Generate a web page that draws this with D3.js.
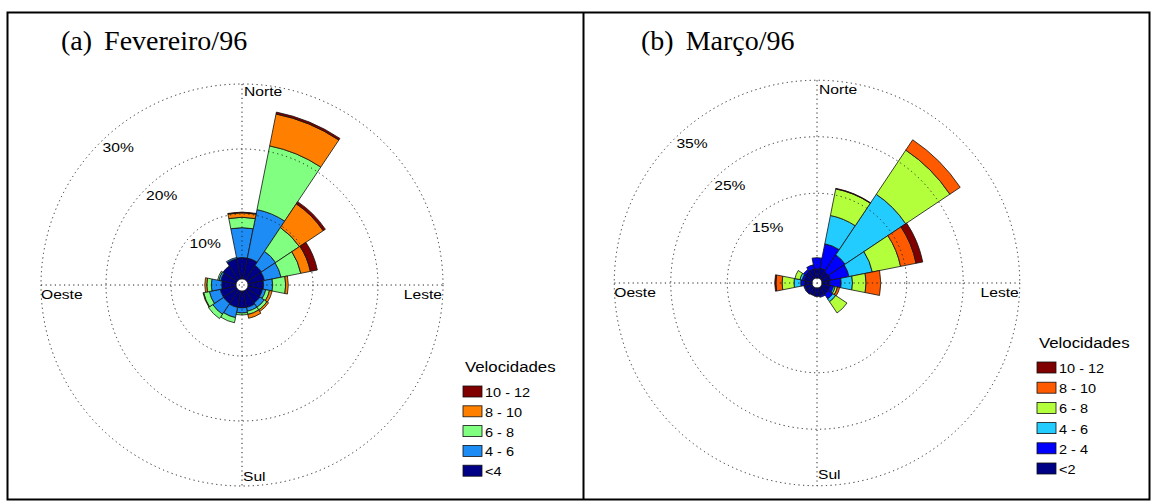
<!DOCTYPE html>
<html>
<head>
<meta charset="utf-8">
<script src="https://cdn.jsdelivr.net/npm/d3@7"></script>
<style>
  body { margin: 0; background: #fff; }
  text { font-family: "Liberation Sans", Arial, sans-serif; fill: #000; }
  .title { font-family: "Liberation Serif", "Times New Roman", serif; font-size: 28px; }
</style>
</head>
<body>
<script>
const width = 1155;
const height = 504;

const directions = ["N", "NNE", "NE", "ENE", "E", "ESE", "SE", "SSE", "S", "SSW", "SW", "WSW", "W", "WNW", "NW", "NNW"];

// (a) Fevereiro/96 - percent per direction, one array per speed class
const febClasses = ["<4", "4 - 6", "6 - 8", "8 - 10", "10 - 12"];
const febLt4  = [3.3, 3.3, 2.7, 2.6, 2.4, 2.3, 2.4, 2.6, 2.6, 2.6, 2.5, 2.5, 2.2, 2.4, 2.6, 3.2];
const feb4_6  = [4.6, 7.6, 2.6, 2.6, 1.4, 0.5, 0.8, 0.6, 0.8, 1.6, 2.0, 1.7, 1.6, 0.3, 0.0, 0.2];
const feb6_8  = [1.6, 10.0, 4.4, 3.1, 2.0, 0.6, 0.5, 0.5, 0.3, 0.8, 0.8, 0.9, 0.7, 0.2, 0.0, 0.0];
const feb8_10 = [0.7, 5.0, 4.4, 1.5, 0.4, 0.4, 0.3, 0.6, 0.0, 0.0, 0.0, 0.1, 0.3, 0.0, 0.0, 0.0];
const feb10_12 = [0.1, 0.3, 0.4, 1.1, 0, 0, 0, 0, 0, 0, 0, 0, 0, 0, 0, 0];
const febColors = ["#000086", "#1e8cf5", "#80ff80", "#ff8000", "#800000"];
const febRings = [10, 20, 30];

// (b) Março/96
const marClasses = ["<2", "2 - 4", "4 - 6", "6 - 8", "8 - 10", "10 - 12"];
const marLt2  = [1.6, 1.8, 1.5, 1.6, 1.4, 1.5, 1.5, 1.4, 1.5, 1.3, 1.5, 1.3, 1.4, 1.4, 1.6, 1.6];
const mar2_4  = [2.0, 4.4, 3.6, 3.3, 2.0, 0.6, 1.0, 0.3, 0.0, 0.1, 0.0, 0.2, 0.6, 0.4, 0.4, 0.8];
const mar4_6  = [0.0, 5.1, 12.9, 4.2, 2.0, 0.3, 0.6, 0, 0, 0, 0, 0, 1.2, 0.4, 0, 0];
const mar6_8  = [0.0, 4.8, 9.4, 5.1, 2.4, 0.4, 2.4, 0, 0, 0, 0, 0, 2.1, 0.9, 0, 0];
const mar8_10 = [0.0, 0.0, 2.2, 2.8, 2.6, 0.4, 0, 0, 0, 0, 0, 0, 1.1, 0, 0, 0];
const mar10_12 = [0.0, 0.1, 0.0, 1.2, 0, 0, 0, 0, 0, 0, 0, 0, 0.2, 0, 0, 0];
const marColors = ["#000086", "#0000ff", "#22ccff", "#b4ff3c", "#ff5a00", "#800000"];
const marRings = [15, 25, 35];

const svg = d3.select("body")
    .append("svg")
    .attr("width", width)
    .attr("height", height);

// frame
svg.append("rect")
    .attr("x", 7.5).attr("y", 12.5)
    .attr("width", 1142).attr("height", 487)
    .attr("fill", "none").attr("stroke", "#000").attr("stroke-width", 2);
svg.append("line")
    .attr("x1", 583.5).attr("x2", 583.5).attr("y1", 12).attr("y2", 500)
    .attr("stroke", "#000").attr("stroke-width", 2);

function stretch(sel, f) {
    sel.each(function () {
        const w = this.getComputedTextLength();
        d3.select(this).attr("textLength", w * f).attr("lengthAdjust", "spacingAndGlyphs");
    });
}

function drawRose(opt) {
    const title = svg.append("text").attr("class", "title")
        .attr("x", opt.titleX).attr("y", 50);
    title.append("tspan").text(opt.tag);
    title.append("tspan").attr("dx", 12).text(opt.month);

    const g = svg.append("g").attr("transform", `translate(${opt.cx},${opt.cy})`);
    const r = d3.scaleLinear().domain([0, opt.max]).range([opt.hole, opt.outer]);
    const step = 2 * Math.PI / directions.length;

    const rows = directions.map((d, i) => {
        const o = { idx: i };
        opt.classes.forEach((c, k) => o[c] = opt.values[k][i]);
        return o;
    });
    const series = d3.stack().keys(opt.classes)(rows);
    const arc = d3.arc();

    g.selectAll("g.layer")
        .data(series)
        .join("g")
        .attr("class", "layer")
        .attr("fill", (d, k) => opt.colors[k])
        .selectAll("path")
        .data(d => d.filter(p => p[1] > p[0]))
        .join("path")
        .attr("d", p => arc({
            innerRadius: r(p[0]),
            outerRadius: r(p[1]),
            startAngle: p.data.idx * step - step / 2,
            endAngle: p.data.idx * step + step / 2
        }))
        .attr("stroke", "#111")
        .attr("stroke-width", 0.8);

    // dotted polar grid on top
    const R = r(opt.max);
    const grid = g.append("g")
        .attr("fill", "none")
        .attr("stroke", "#222")
        .attr("stroke-width", 1)
        .attr("stroke-dasharray", "1.2,3.4");
    grid.selectAll("circle")
        .data(opt.rings)
        .join("circle")
        .attr("r", d => r(d));
    grid.append("line").attr("x1", -R).attr("x2", R).attr("y1", 0).attr("y2", 0);
    grid.append("line").attr("x1", 0).attr("x2", 0).attr("y1", -R).attr("y2", R);

    // ring labels
    const a = 42 * Math.PI / 180;
    g.selectAll("text.ring")
        .data(opt.rings)
        .join("text")
        .attr("class", "ring")
        .attr("x", d => -Math.sin(a) * (r(d) - 16))
        .attr("y", d => -Math.cos(a) * (r(d) - 16))
        .attr("text-anchor", "middle")
        .attr("dominant-baseline", "central")
        .attr("font-size", 12.5)
        .text(d => d + "%")
        .call(stretch, 1.25);

    // compass labels
    const compass = [
        { t: "Norte", x: 2, y: -189, anchor: "start" },
        { t: "Sul", x: 1, y: 196, anchor: "start" },
        { t: "Oeste", x: -R, y: 14, anchor: "start" },
        { t: "Leste", x: R - 1, y: 14, anchor: "end" }
    ];
    g.selectAll("text.dir")
        .data(compass)
        .join("text")
        .attr("class", "dir")
        .attr("x", d => d.x)
        .attr("y", d => d.y)
        .attr("text-anchor", d => d.anchor)
        .attr("font-size", 13)
        .text(d => d.t)
        .call(stretch, 1.2);

    // legend, highest class on top
    const lg = svg.append("g").attr("transform", `translate(${opt.legX},${opt.legY})`);
    lg.append("text")
        .attr("x", 2).attr("y", 0)
        .attr("font-size", 14)
        .text("Velocidades")
        .call(stretch, 1.2);
    const items = opt.classes.map((c, k) => ({ c, col: opt.colors[k] })).reverse();
    const it = lg.selectAll("g.item")
        .data(items)
        .join("g")
        .attr("class", "item")
        .attr("transform", (d, i) => `translate(0,${14 + i * opt.legStep})`);
    it.append("rect")
        .attr("width", 19).attr("height", 11)
        .attr("fill", d => d.col)
        .attr("stroke", "#111").attr("stroke-width", 0.8);
    it.append("text")
        .attr("x", 22).attr("y", 11)
        .attr("font-size", 12.5)
        .text(d => d.c)
        .call(stretch, 1.16);
}

drawRose({
    tag: "(a)", month: "Fevereiro/96", titleX: 61,
    cx: 242, cy: 285, hole: 6, outer: 201, max: 30,
    rings: febRings, classes: febClasses,
    values: [febLt4, feb4_6, feb6_8, feb8_10, feb10_12],
    colors: febColors,
    legX: 463, legY: 372, legStep: 19.8
});

drawRose({
    tag: "(b)", month: "Março/96", titleX: 641,
    cx: 817, cy: 283, hole: 5, outer: 202.75, max: 35,
    rings: marRings, classes: marClasses,
    values: [marLt2, mar2_4, mar4_6, mar6_8, mar8_10, mar10_12],
    colors: marColors,
    legX: 1037, legY: 348, legStep: 20.2
});
</script>
</body>
</html>
